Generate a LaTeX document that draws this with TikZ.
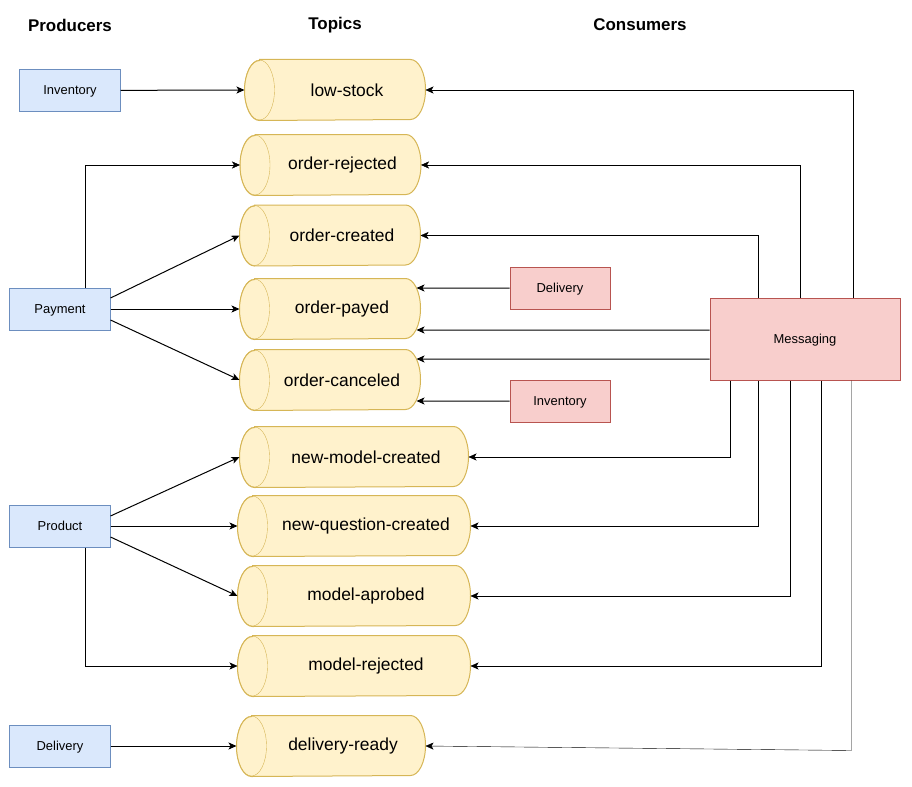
\documentclass[tikz,border=0pt]{standalone}
\usepackage{fontspec}
\setmainfont{Liberation Sans}
\usepackage{tikz}
\usetikzlibrary{backgrounds}
\usetikzlibrary{arrows.meta}
\definecolor{prodfill}{HTML}{DAE8FC}
\definecolor{prodline}{HTML}{6C8EBF}
\definecolor{consfill}{HTML}{F8CECC}
\definecolor{consline}{HTML}{B85450}
\definecolor{topicfill}{HTML}{FFF2CC}
\definecolor{topicline}{HTML}{D6B656}
\tikzset{every edge/.style={draw, line width=1bp, -{Stealth[length=8bp,width=7bp,inset=2bp]}}}
\tikzset{producer/.style={draw=prodline, fill=prodfill, line width=1bp, minimum width=100bp, minimum height=42bp, inner sep=0pt, text height=10bp, text depth=1.5bp, font=\fontsize{13}{15}\selectfont}}
\tikzset{consumer/.style={draw=consline, fill=consfill, line width=1bp, minimum width=100bp, minimum height=42bp, inner sep=0pt, text height=10bp, text depth=1.5bp, font=\fontsize{13}{15}\selectfont}}
\tikzset{topic/.style={minimum height=60bp, inner sep=0pt, font=\fontsize{17.5}{20}\selectfont, execute at begin node=\hspace*{24bp}}}
\tikzset{header/.style={font=\bfseries\fontsize{17}{20}\selectfont}}
\tikzset{tank/.style={draw=topicline, fill=topicfill, line width=1bp}}

\begin{document}
\begin{tikzpicture}[x=1bp, y=-1bp, >={Stealth[length=8bp,width=7bp,inset=2bp]}, line width=1bp]
    \useasboundingbox (0, 0) rectangle (912, 787);

    \node[header] at (70, 25) (hprod) {Producers};
    \node[header] at (335, 25) (htopic) {Topics};
    \node[header] at (640, 25) (hcons) {Consumers};

    \node[producer] at (70, 90.5) (inventory) {Inventory};
    \node[producer] at (60, 309) (payment) {Payment};
    \node[producer] at (60, 526) (product) {Product};
    \node[producer] at (60, 746) (delivery) {Delivery};

    \node[topic, minimum width=180bp] at (335, 90) (lowstock) {low-stock};
    \node[topic, minimum width=180bp] at (330.5, 165) (ordrejected) {order-rejected};
    \node[topic, minimum width=180bp] at (330, 235.5) (ordcreated) {order-created};
    \node[topic, minimum width=180bp] at (330, 309) (ordpayed) {order-payed};
    \node[topic, minimum width=180bp] at (330, 380) (ordcanceled) {order-canceled};
    \node[topic, minimum width=228bp] at (354, 457) (modelcreated) {new-model-created};
    \node[topic, minimum width=232bp] at (354, 526) (questioncreated) {new-question-created};
    \node[topic, minimum width=232bp] at (354, 596) (modelaprobed) {model-aprobed};
    \node[topic, minimum width=232bp] at (354, 666) (modelrejected) {model-rejected};
    \node[topic, minimum width=188bp] at (331, 746) (deliveryready) {delivery-ready};

    % the cylinders behind the topic names
    \begin{pgfonlayer}{background}
    \foreach \t in {lowstock, ordrejected, ordcreated, ordpayed, ordcanceled, modelcreated, questioncreated, modelaprobed, modelrejected, deliveryready} {
        \path[tank] ([xshift=15bp]\t.north west) -- ([xshift=-15bp]\t.north east)
            arc[start angle=90, end angle=-90, x radius=15bp, y radius=30bp]
            -- ([xshift=15bp]\t.south west)
            arc[start angle=270, end angle=90, x radius=15bp, y radius=30bp] -- cycle;
        \draw[topicline] ([xshift=15bp]\t.west) ellipse[x radius=15bp, y radius=30bp];
    }
    \end{pgfonlayer}

    \node[consumer] at (560, 288) (cdelivery) {Delivery};
    \node[consumer] at (560, 401) (cinventory) {Inventory};
    \node[consumer, minimum width=190bp, minimum height=82bp] at (805, 339) (messaging) {Messaging};

    % producers -> topics
    \draw (inventory) edge (lowstock.west);
    \draw[->] ([xshift=25bp]payment.north) |- (ordrejected.west);
    \draw ([yshift=11bp]payment.east) edge (ordcreated.west);
    \draw (payment.east) edge (ordpayed.west);
    \draw ([yshift=-11bp]payment.east) edge (ordcanceled.west);
    \draw ([yshift=10bp]product.east) edge (modelcreated.west);
    \draw (product.east) edge (questioncreated.west);
    \draw ([yshift=-11bp]product.east) edge (modelaprobed.west);
    \draw[->] ([xshift=25bp]product.south) |- (modelrejected.west);
    \draw (delivery) edge (deliveryready.west);

    % consumers -> topics
    \draw (cdelivery.west) edge ([xshift=-4bp,yshift=21bp]ordpayed.east);
    \draw (cinventory.west) edge ([xshift=-4bp,yshift=-21bp]ordcanceled.east);
    \draw[->] ([xshift=48bp]messaging.north) |- (lowstock.east);
    \draw[->] ([xshift=-5bp]messaging.north) |- (ordrejected.east);
    \draw[->] ([xshift=-47bp]messaging.north) |- (ordcreated.east);
    \draw ([yshift=9bp]messaging.west) edge ([xshift=-4bp,yshift=-21bp]ordpayed.east);
    \draw ([yshift=-20bp]messaging.west) edge ([xshift=-4bp,yshift=21bp]ordcanceled.east);
    \draw[->] ([xshift=-75bp]messaging.south) |- (modelcreated.east);
    \draw[->] ([xshift=-47bp]messaging.south) |- (questioncreated.east);
    \draw[->] ([xshift=-15bp]messaging.south) |- (modelaprobed.east);
    \draw[->] ([xshift=16bp]messaging.south) |- (modelrejected.east);
    \draw[->] ([xshift=46.5bp]messaging.south) -- ++(0, 370) -- (deliveryready.east);
\end{tikzpicture}
\end{document}
